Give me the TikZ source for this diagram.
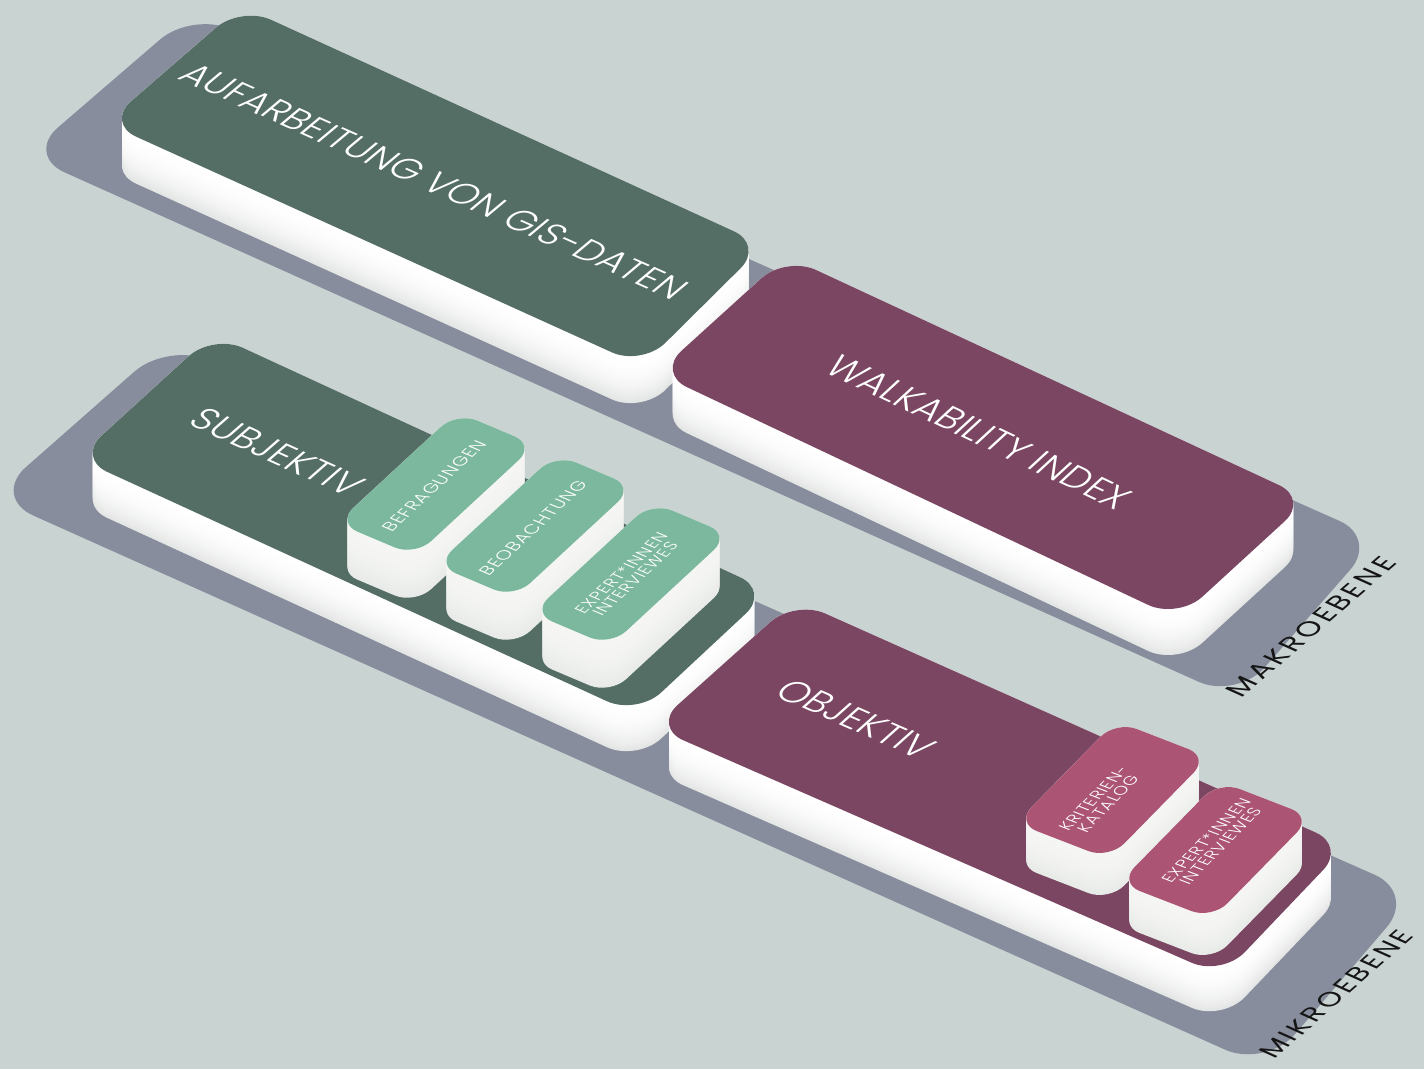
\documentclass[tikz,border=0pt]{standalone}
\usepackage{fontspec}
\setmainfont{Poppins}
\IfFontExistsTF{Poppins Light}{\newfontfamily\lightfont{Poppins Light}}{\newfontfamily\lightfont{Poppins}}
\usetikzlibrary{calc}
\definecolor{bg}{HTML}{C9D3D2}
\definecolor{plate}{HTML}{878D9C}
\definecolor{dgreen}{HTML}{546E66}
\definecolor{purp}{HTML}{7A4662}
\definecolor{lgreen}{HTML}{7BB89D}
\definecolor{pinkc}{HTML}{AC5474}
\definecolor{sidetop}{HTML}{FFFFFF}
\definecolor{sidebot}{HTML}{E4E6E5}
\definecolor{boxtop}{HTML}{F5F6F4}
\definecolor{boxbot}{HTML}{E8EAE8}
\definecolor{labelc}{HTML}{151515}

% flat rounded quadrilateral: D A B C radius colour
\newcommand\face[6]{%
  \fill[#6, rounded corners=#5] ($(#1)!0.5!(#2)$) -- (#2) -- (#3) -- (#4) -- (#1) -- cycle;}

% extruded slab: D A B C height radius topcolour sidetop sidebottom
\newcommand\slab[9]{%
  \foreach \i in {0,...,#5}{%
    \pgfmathsetmacro\myt{#5-\i}%
    \pgfmathsetmacro\myf{100*(\myt/#5)^2}%
    \begin{scope}[yshift=-\myt pt]
      \fill[#9!\myf!#8, rounded corners=#6] ($(#1)!0.5!(#2)$) -- (#2) -- (#3) -- (#4) -- (#1) -- cycle;
    \end{scope}
  }%
  \face{#1}{#2}{#3}{#4}{#6}{#7}%
}

\tikzset{
  bigtext/.style={transform shape, text=white, inner sep=0pt, font=\lightfont\fontsize{#1}{#1}\selectfont},
  smalltext/.style={transform shape, text=white, inner sep=0pt, align=center,
    font=\lightfont\addfontfeatures{LetterSpace=5}\fontsize{#1}{#1}\selectfont},
  leveltext/.style={transform shape, text=labelc, inner sep=0pt,
    font=\addfontfeatures{LetterSpace=11}\fontsize{#1}{#1}\selectfont},
}

\begin{document}
\begin{tikzpicture}[x=1pt,y=1pt]
\useasboundingbox (0,0) rectangle (1424,-1069);
\fill[bg] (0,0) rectangle (1424,-1069);

% ---------- Makroebene ----------
\face{26,-155}{192,-12}{1378,-538}{1237,-699}{42pt}{plate}
\slab{106,-123}{241,-6}{764,-245}{642,-366}{47}{33pt}{dgreen}{sidetop}{sidebot}
\slab{657,-373}{786,-256}{1309,-499}{1178,-619}{46}{33pt}{purp}{sidetop}{sidebot}

\begin{scope}[cm={0.9125,-0.4091,0.7668,0.6417,(434,-181)}]
  \node[bigtext=36.5] (tgis) at (0,0) {AUFARBEITUNG VON GIS-DATEN};
\end{scope}
\begin{scope}[cm={0.9039,-0.4277,0.7352,0.6778,(979,-432)}]
  \node[bigtext=37] (twalk) at (0,0) {WALKABILITY INDEX};
\end{scope}
\begin{scope}[cm={0.755,0.655,-0.912,0.41,(1311,-627)}]
  \node[leveltext=28] (lmakro) at (0,0) {MAKROEBENE};
\end{scope}

% ---------- Mikroebene ----------
\face{-8,-497}{168,-342}{1416,-893}{1266,-1068}{45pt}{plate}
\slab{77,-458}{213,-334}{770,-591}{637,-715}{46}{33pt}{dgreen}{sidetop}{sidebot}
\begin{scope}[cm={0.9105,-0.4136,0.753,0.6582,(277,-452)}]
  \node[bigtext=37] (tsubj) at (0,0) {SUBJEKTIV};
\end{scope}

\slab{337,-523}{457,-412}{535,-445}{415,-556}{48}{22pt}{lgreen}{boxtop}{boxbot}
\begin{scope}[cm={0.734,0.679,-0.9209,0.3896,(434,-486)}]
  \node[smalltext=17.5] (tbef) at (0,0) {BEFRAGUNGEN};
\end{scope}
\slab{436,-565}{556,-454}{634,-487}{514,-598}{48}{22pt}{lgreen}{boxtop}{boxbot}
\begin{scope}[cm={0.734,0.679,-0.9209,0.3896,(533,-528)}]
  \node[smalltext=17.5] (tbeo) at (0,0) {BEOBACHTUNG};
\end{scope}
\slab{532,-613}{652,-502}{730,-535}{610,-646}{48}{22pt}{lgreen}{boxtop}{boxbot}
\begin{scope}[cm={0.734,0.679,-0.9209,0.3896,(628,-576)}]
  \node[smalltext=16.3] (texp1) at (0,0) {EXPERT*INNEN\\[-1pt]INTERVIEWES};
\end{scope}

\slab{653,-727}{795,-600}{1346,-846}{1222,-976}{45}{33pt}{purp}{sidetop}{sidebot}
\begin{scope}[cm={0.9156,-0.4021,0.7454,0.6667,(856,-719)}]
  \node[bigtext=37] (tobj) at (0,0) {OBJEKTIV};
\end{scope}

\slab{1016,-823}{1116,-721}{1209,-757}{1109,-859}{42}{22pt}{pinkc}{boxtop}{boxbot}
\begin{scope}[cm={0.7002,0.7142,-0.9328,0.3611,(1101,-801)}]
  \node[smalltext=16.3] (tkrit) at (0,0) {KRITERIEN-\\[-1pt]KATALOG};
\end{scope}
\slab{1119,-883}{1219,-781}{1312,-817}{1212,-919}{42}{22pt}{pinkc}{boxtop}{boxbot}
\begin{scope}[cm={0.7002,0.7142,-0.9328,0.3611,(1213,-843)}]
  \node[smalltext=16.3] (texp2) at (0,0) {EXPERT*INNEN\\[-1pt]INTERVIEWES};
\end{scope}

\begin{scope}[cm={0.752,0.659,-0.912,0.41,(1336,-994)}]
  \node[leveltext=27] (lmikro) at (0,0) {MIKROEBENE};
\end{scope}
\end{tikzpicture}
\end{document}
